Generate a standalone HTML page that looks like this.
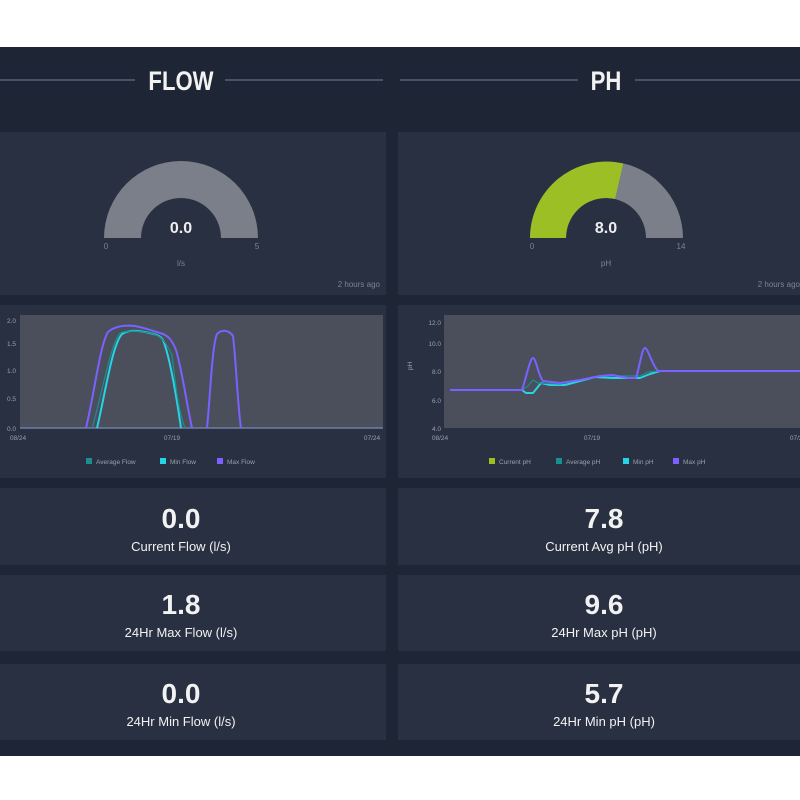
<!DOCTYPE html>
<html><head><meta charset="utf-8"><style>
html,body{margin:0;padding:0;background:#fff;width:800px;height:800px;overflow:hidden}
svg{display:block}
text{font-family:"Liberation Sans",sans-serif}
</style></head><body>
<svg width="800" height="800" viewBox="0 0 800 800">
<rect x="0" y="0" width="800" height="800" fill="#fff"/>
<rect x="0" y="47" width="800" height="709" fill="#1e2535"/>
<!-- headers -->
<line x1="0" y1="80" x2="135" y2="80" stroke="#56607a" stroke-width="1.5"/>
<line x1="225" y1="80" x2="383" y2="80" stroke="#56607a" stroke-width="1.5"/>
<text x="181" y="90" font-size="27" font-weight="bold" fill="#f2f2f2" text-anchor="middle" transform="translate(181 0) scale(0.82 1) translate(-181 0)">FLOW</text>
<line x1="400" y1="80" x2="578" y2="80" stroke="#56607a" stroke-width="1.5"/>
<line x1="635" y1="80" x2="800" y2="80" stroke="#56607a" stroke-width="1.5"/>
<text x="606" y="90" font-size="27" font-weight="bold" fill="#f2f2f2" text-anchor="middle" transform="translate(606 0) scale(0.82 1) translate(-606 0)">PH</text>
<!-- cards -->
<g fill="#293041">
<rect x="0" y="132" width="386" height="163"/><rect x="398" y="132" width="402" height="163"/>
<rect x="0" y="305" width="386" height="173"/><rect x="398" y="305" width="402" height="173"/>
<rect x="0" y="488" width="386" height="77"/><rect x="398" y="488" width="402" height="77"/>
<rect x="0" y="575" width="386" height="76"/><rect x="398" y="575" width="402" height="76"/>
<rect x="0" y="664" width="386" height="76"/><rect x="398" y="664" width="402" height="76"/>
</g>
<!-- flow gauge -->
<path d="M104 238 A77 77 0 0 1 258 238 L221 238 A40 40 0 0 0 141 238 Z" fill="#7b7f89"/>
<text x="181" y="233" font-size="16" font-weight="bold" fill="#eee" text-anchor="middle">0.0</text>
<text x="106" y="249" font-size="8" fill="#7c8295" text-anchor="middle">0</text>
<text x="257" y="249" font-size="8" fill="#7c8295" text-anchor="middle">5</text>
<text x="181" y="266" font-size="8" fill="#7c8295" text-anchor="middle">l/s</text>
<text x="380" y="287" font-size="8" fill="#7c8295" text-anchor="end">2 hours ago</text>
<!-- ph gauge -->
<path d="M530 238 A76.5 76.5 0 0 1 683 238 L646 238 A40 40 0 0 0 566 238 Z" fill="#7b7f89"/>
<path d="M530 238 A76.5 76.5 0 0 1 623.2 163.5 L615 199 A40 40 0 0 0 566 238 Z" fill="#9bbf24"/>
<text x="606" y="233" font-size="16" font-weight="bold" fill="#eee" text-anchor="middle">8.0</text>
<text x="532" y="249" font-size="8" fill="#7c8295" text-anchor="middle">0</text>
<text x="681" y="249" font-size="8" fill="#7c8295" text-anchor="middle">14</text>
<text x="606" y="266" font-size="8" fill="#7c8295" text-anchor="middle">pH</text>
<text x="800" y="287" font-size="8" fill="#7c8295" text-anchor="end">2 hours ago</text>
<!-- flow chart -->
<rect x="20" y="315" width="363" height="113" fill="#4a4f5b"/>
<g font-size="6.5" fill="#9aa0ae" text-anchor="end">
<text x="16" y="323">2.0</text><text x="16" y="346">1.5</text><text x="16" y="373">1.0</text><text x="16" y="401">0.5</text><text x="16" y="431">0.0</text>
</g>
<g font-size="6.5" fill="#9aa0ae" text-anchor="middle">
<text x="18" y="440">08/24</text><text x="172" y="440">07/19</text><text x="372" y="440">07/24</text>
</g>
<line x1="20" y1="428" x2="383" y2="428" stroke="#6f7fa8" stroke-width="1.5"/>
<g fill="none" stroke-width="2" stroke-linejoin="round">
<path d="M86 428 C95 390,100 345,108 332 C115 326,125 325,135 326 C145 328,150 330,160 333 C168 335,172 340,176 350 C182 370,186 400,192 428" stroke="#7b61ff"/>
<path d="M207 428 C210 400,212 345,217 334 C222 329,229 330,233 336 C236 360,238 410,241 428" stroke="#7b61ff"/>
<path d="M97 428 C105 395,112 345,122 334 C128 330,136 330,145 332 C155 334,160 335,163 340 C168 352,174 380,181 428" stroke="#27d3e6"/>
<path d="M92 428 C102 395,110 345,120 333 C128 330,140 331,150 333 C160 335,165 340,172 355 C175 380,178 410,185 428" stroke="#1a8f8f" stroke-width="1.2"/>
</g>
<g font-size="6.5" fill="#9aa0ae">
<rect x="86" y="458" width="6" height="6" fill="#1a8f8f"/><text x="96" y="464">Average Flow</text>
<rect x="160" y="458" width="6" height="6" fill="#27d3e6"/><text x="170" y="464">Min Flow</text>
<rect x="217" y="458" width="6" height="6" fill="#7b61ff"/><text x="227" y="464">Max Flow</text>
</g>
<!-- ph chart -->
<rect x="444" y="315" width="356" height="113" fill="#4a4f5b"/>
<g font-size="6.5" fill="#9aa0ae" text-anchor="end">
<text x="441" y="325">12.0</text><text x="441" y="346">10.0</text><text x="441" y="374">8.0</text><text x="441" y="403">6.0</text><text x="441" y="431">4.0</text>
</g>
<text x="412" y="370" font-size="6.5" fill="#9aa0ae" transform="rotate(-90 412 370)">pH</text>
<g font-size="6.5" fill="#9aa0ae" text-anchor="middle">
<text x="440" y="440">08/24</text><text x="592" y="440">07/19</text><text x="798" y="440">07/24</text>
</g>
<g fill="none" stroke-width="2" stroke-linejoin="round">
<path d="M450 390 L522 390 L526 393 L533 393 L541 383 L550 385 L565 385 L580 381 L595 377 L612 378 L628 378 L640 378 L650 374 L660 371 L800 371" stroke="#27d3e6"/>
<path d="M450 390 L522 390 L528 386 L533 380 L538 383 L560 384 L580 380 L600 376 L640 376 L648 372 L660 371 L800 371" stroke="#1a8f8f" stroke-width="1.2"/>
<path d="M450 390 L522 390 C527 375,530 358,533 358 C536 358,538 375,543 381 L560 383 L580 380 L600 376 L612 375 L628 378 L636 378 C640 365,642 348,645 348 C648 348,652 365,658 371 L800 371" stroke="#7b61ff"/>
</g>
<g font-size="6.5" fill="#9aa0ae">
<rect x="489" y="458" width="6" height="6" fill="#9bbf24"/><text x="499" y="464">Current pH</text>
<rect x="556" y="458" width="6" height="6" fill="#1a8f8f"/><text x="566" y="464">Average pH</text>
<rect x="623" y="458" width="6" height="6" fill="#27d3e6"/><text x="633" y="464">Min pH</text>
<rect x="673" y="458" width="6" height="6" fill="#7b61ff"/><text x="683" y="464">Max pH</text>
</g>
<!-- stats -->
<g fill="#f2f2f2" text-anchor="middle">
<text x="181" y="528" font-size="28" font-weight="bold">0.0</text>
<text x="181" y="551" font-size="13">Current Flow (l/s)</text>
<text x="181" y="614" font-size="28" font-weight="bold">1.8</text>
<text x="181" y="637" font-size="13">24Hr Max Flow (l/s)</text>
<text x="181" y="703" font-size="28" font-weight="bold">0.0</text>
<text x="181" y="726" font-size="13">24Hr Min Flow (l/s)</text>
<text x="604" y="528" font-size="28" font-weight="bold">7.8</text>
<text x="604" y="551" font-size="13">Current Avg pH (pH)</text>
<text x="604" y="614" font-size="28" font-weight="bold">9.6</text>
<text x="604" y="637" font-size="13">24Hr Max pH (pH)</text>
<text x="604" y="703" font-size="28" font-weight="bold">5.7</text>
<text x="604" y="726" font-size="13">24Hr Min pH (pH)</text>
</g>
</svg>
</body></html>
